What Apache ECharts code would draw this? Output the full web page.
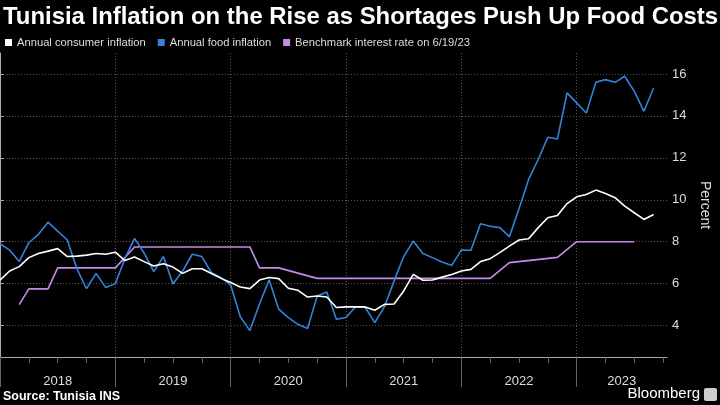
<!DOCTYPE html>
<html>
<head>
<meta charset="utf-8">
<script src="https://cdn.jsdelivr.net/npm/echarts@6/dist/echarts.min.js"></script>
<style>html,body{margin:0;padding:0;background:#000;}#c{width:720px;height:405px;}</style>
</head>
<body>
<div id="c"></div>
<script>
// Monthly data, index 0 = Dec 2017 (plotted at month end), index 68 = Aug 2023
var consumerInflation = [6.17,6.6,6.81,7.24,7.44,7.55,7.67,7.29,7.31,7.36,7.44,7.4,7.5,7.1,7.27,7.05,6.84,6.95,6.79,6.49,6.71,6.71,6.48,6.25,6.05,5.84,5.76,6.17,6.29,6.24,5.78,5.68,5.36,5.41,5.36,4.86,4.89,4.9,4.89,4.73,5.01,5.03,5.65,6.44,6.16,6.17,6.31,6.44,6.6,6.68,7.05,7.19,7.48,7.79,8.08,8.14,8.67,9.14,9.25,9.82,10.14,10.25,10.46,10.3,10.1,9.7,9.38,9.06,9.3];
var foodInflation = [7.9,7.6,7.05,7.95,8.35,8.93,8.5,8.08,6.71,5.76,6.49,5.81,6.0,7.2,8.16,7.45,6.57,7.29,5.98,6.6,7.4,7.29,6.52,6.29,5.93,4.42,3.76,5.03,6.18,4.78,4.38,4.06,3.86,5.41,5.6,4.3,4.38,4.9,4.86,4.14,4.9,6.12,7.29,8.03,7.44,7.24,7.03,6.87,7.6,7.59,8.86,8.74,8.67,8.24,9.57,10.97,11.92,12.98,12.9,15.1,14.62,14.14,15.6,15.73,15.6,15.89,15.17,14.22,15.33];
var rateMonths = [2,3,5,6,12,14,26,27,29,33,51,53,58,60,66];
var rateValues = [5.0,5.75,5.75,6.75,6.75,7.75,7.75,6.75,6.75,6.25,6.25,7.0,7.25,8.0,8.0];
var yearStartMonths = [0,12,24,36,48,60];
var yearLabelPositions = [6,18,30,42,54,64.7];
var quarterTicks = [3,6,9,15,18,21,27,30,33,39,42,45,51,54,57,63,66,69];
var yTickValues = [4,6,8,10,12,14,16];

var names = ['Annual consumer inflation','Annual food inflation','Benchmark interest rate on 6/19/23'];
var colors = {white:'#ffffff', blue:'#3483d8', purple:'#c68be6'};
var FONT = 'Liberation Sans, Arial, sans-serif';

var chart = echarts.init(document.getElementById('c'));
chart.setOption({
  backgroundColor:'#000',
  animation:false,
  title:[
    {text:'Tunisia Inflation on the Rise as Shortages Push Up Food Costs', left:3, top:5, padding:0,
     textStyle:{color:'#fff', fontSize:23.9, fontWeight:'bold', fontFamily:FONT}},
    {text:'Source: Tunisia INS', left:3, top:390, padding:0,
     textStyle:{color:'#fff', fontSize:12.5, fontWeight:'bold', fontFamily:FONT}}
  ],
  legend:{
    left:5, top:37, padding:0, itemWidth:7, itemHeight:7, itemGap:12, icon:'rect',
    textStyle:{color:'#ddd', fontSize:11.2, fontFamily:FONT},
    data:[
      {name:names[0], itemStyle:{color:colors.white}},
      {name:names[1], itemStyle:{color:colors.blue}},
      {name:names[2], itemStyle:{color:colors.purple}}
    ]
  },
  grid:{left:0, right:40, top:53, bottom:48, containLabel:false},
  xAxis:[
    {type:'value', min:0, max:69.4,
     axisLine:{show:true, lineStyle:{color:'#aaa', width:1}},
     axisTick:{show:true, customValues:yearStartMonths, length:30, lineStyle:{color:'#666'}},
     axisLabel:{show:true, customValues:yearLabelPositions, margin:18, color:'#ddd', fontSize:13, fontFamily:FONT,
       formatter:function(v){return String(2018+Math.floor(v/12));}},
     splitLine:{show:true, lineStyle:{color:'#555', type:[1,2], width:1}}
    },
    {type:'value', min:0, max:69.4, position:'bottom',
     axisLine:{show:false},
     axisTick:{show:true, customValues:quarterTicks, length:6, lineStyle:{color:'#666'}},
     axisLabel:{show:false}, splitLine:{show:false}
    }
  ],
  yAxis:{type:'value', position:'right', min:2.5, max:17,
    axisLine:{show:true, lineStyle:{color:'#aaa'}},
    axisTick:{show:true, customValues:yTickValues, length:4, lineStyle:{color:'#aaa'}},
    axisLabel:{show:true, customValues:yTickValues, margin:5, color:'#ddd', fontSize:13, fontFamily:FONT},
    splitLine:{show:true, lineStyle:{color:'#555', type:[1,2], width:1}},
    name:'Percent', nameLocation:'middle', nameRotate:-90, nameGap:31,
    nameTextStyle:{color:'#ddd', fontSize:14, fontFamily:FONT}
  },
  series:[
    {name:names[2], type:'line', showSymbol:false, symbol:'none', lineStyle:{color:colors.purple, width:1.6}, itemStyle:{color:colors.purple},
     data:rateMonths.map(function(m,i){return [m, rateValues[i]];})},
    {name:names[1], type:'line', showSymbol:false, symbol:'none', lineStyle:{color:colors.blue, width:1.6}, itemStyle:{color:colors.blue},
     data:foodInflation.map(function(v,i){return [i,v];})},
    {name:names[0], type:'line', showSymbol:false, symbol:'none', lineStyle:{color:colors.white, width:1.6}, itemStyle:{color:colors.white},
     data:consumerInflation.map(function(v,i){return [i,v];})}
  ],
  graphic:[
    {type:'text', right:20, top:386, style:{text:'Bloomberg', fill:'#fff', font:'15px '+FONT}},
    {type:'rect', right:3, top:388, shape:{width:13, height:13, r:2}, style:{fill:'#ccc'}}
  ]
});
</script>
</body>
</html>
